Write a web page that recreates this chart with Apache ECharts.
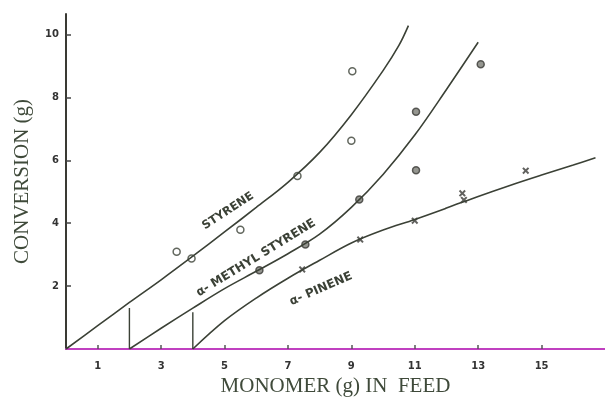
<!DOCTYPE html>
<html>
<head>
<meta charset="utf-8">
<script src="https://cdn.jsdelivr.net/npm/echarts@6/dist/echarts.min.js"></script>
<style>
  html, body { margin: 0; padding: 0; background: #fff; }
  #chart { width: 605px; height: 402px; }
</style>
</head>
<body>
<div id="chart"></div>
<script>
// curves
var styreneCurve = [[0,0],[1,0.74],[2,1.48],[3,2.2],[4,2.95],[5,3.72],[6,4.5],[7,5.3],[8,6.25],[9,7.45],[10,8.85],[10.5,9.65],[10.8,10.28]]
var methylCurve = [[2,0],[3,0.66],[4,1.3],[5,1.92],[6,2.47],[7,3.03],[8,3.65],[9,4.5],[10,5.55],[11,6.8],[12,8.25],[13,9.75]]
var pineneCurve = [[4,0],[5,0.9],[6,1.62],[7,2.25],[8,2.82],[9,3.37],[10,3.78],[11,4.12],[12,4.48],[13,4.85],[14,5.2],[15,5.53],[16,5.85],[16.7,6.08]]

// measured points
var styrenePts = [[3.49,3.09],[3.96,2.88],[5.5,3.79],[7.3,5.5],[9.03,8.83],[9.0,6.62]]
var methylPts = [[6.1,2.5],[7.55,3.32],[9.25,4.75],[11.04,7.54],[11.04,5.68],[13.08,9.05]]
var pinenePts = [[7.45,2.53],[9.28,3.48],[11.0,4.08],[12.5,4.95],[12.55,4.74],[14.5,5.67]]

// start markers (vertical strokes)
var methylStart = [[2,0],[2,1.3]]
var pineneStart = [[4,0],[4,1.17]]

var xTicks = [1,3,5,7,9,11,13,15]
var yTicks = [2,4,6,8,10]

var ink = '#3b4136'
var crossPath = 'path://M0,2L2,0L5,3L8,0L10,2L7,5L10,8L8,10L5,7L2,10L0,8L3,5Z'

var chart = echarts.init(document.getElementById('chart'))

function curve(data) {
  return {type: 'line', data: data, smooth: 0.35, showSymbol: false, silent: true,
    lineStyle: {color: ink, width: 1.6}}
}
function stroke(data) {
  return {type: 'line', data: data, showSymbol: false, silent: true,
    lineStyle: {color: ink, width: 1.4}}
}

chart.setOption({
  backgroundColor: '#fff',
  animation: false,
  grid: {left: 66, right: 0, top: 14, bottom: 50},
  xAxis: {
    type: 'value', min: 0, max: 17,
    name: 'MONOMER (g) IN  FEED', nameLocation: 'middle', nameGap: 27,
    nameTextStyle: {fontFamily: 'Liberation Serif', fontSize: 21, color: '#3f4a3a'},
    splitLine: {show: false},
    axisLine: {lineStyle: {color: '#c040c0', width: 2}},
    axisTick: {customValues: xTicks, inside: true, length: 4, lineStyle: {color: '#555', width: 1.5}},
    axisLabel: {customValues: xTicks, margin: 12, fontSize: 10, fontWeight: 'bold', color: '#333',
      fontFamily: 'DejaVu Sans'}
  },
  yAxis: {
    type: 'value', min: 0, max: 10.65,
    name: 'CONVERSION (g)', nameLocation: 'middle', nameGap: 33, nameRotate: 90,
    nameTextStyle: {fontFamily: 'Liberation Serif', fontSize: 21, color: '#3f4a3a'},
    splitLine: {show: false},
    axisLine: {lineStyle: {color: '#3a3a34', width: 2}},
    axisTick: {customValues: yTicks, inside: true, length: 5, lineStyle: {color: '#444', width: 1.5}},
    axisLabel: {customValues: yTicks, margin: 7, fontSize: 10, fontWeight: 'bold', color: '#333',
      fontFamily: 'DejaVu Sans'}
  },
  graphic: [
    {type: 'text', x: 228, y: 211, rotation: 33 * Math.PI / 180,
      style: {text: 'STYRENE', font: 'bold 11.5px DejaVu Sans', fill: ink, align: 'center', verticalAlign: 'middle'}},
    {type: 'text', x: 256, y: 258, rotation: 31.5 * Math.PI / 180,
      style: {text: 'α- METHYL STYRENE', font: 'bold 12px DejaVu Sans', fill: ink, align: 'center', verticalAlign: 'middle'}},
    {type: 'text', x: 321, y: 289, rotation: 23.5 * Math.PI / 180,
      style: {text: 'α- PINENE', font: 'bold 12px DejaVu Sans', fill: ink, align: 'center', verticalAlign: 'middle'}}
  ],
  series: [
    curve(styreneCurve),
    curve(methylCurve),
    curve(pineneCurve),
    stroke(methylStart),
    stroke(pineneStart),
    {type: 'scatter', data: styrenePts, symbol: 'circle', symbolSize: 7,
      itemStyle: {color: '#fff', borderColor: ink, borderWidth: 1.5}},
    {type: 'scatter', data: methylPts, symbol: 'circle', symbolSize: 7,
      itemStyle: {color: '#7a7c74', borderColor: '#3a3a36', borderWidth: 1.5}},
    {type: 'scatter', data: pinenePts, symbol: crossPath, symbolSize: 7,
      itemStyle: {color: '#3a3a36'}}
  ]
})
</script>
</body>
</html>
